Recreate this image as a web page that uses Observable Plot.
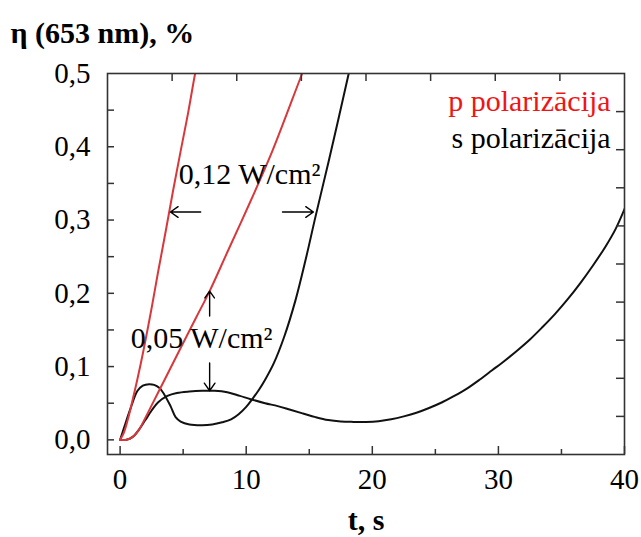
<!DOCTYPE html>
<html>
<head>
<meta charset="utf-8">
<script src="https://cdn.jsdelivr.net/npm/d3@7"></script>
<script src="https://cdn.jsdelivr.net/npm/@observablehq/plot@0.6"></script>
<style>
  html, body { margin: 0; padding: 0; background: white; }
</style>
</head>
<body>
<div id="chart"></div>
<script>
// ---- data ----
// p polarization, 0.12 W/cm2 (red, steep)
const redHighT   = [0, 0.3, 0.6, 1.0, 1.4, 1.84, 2.5, 3.0, 3.62, 4.2, 4.8, 5.4, 5.95, 6.2];
const redHighEta = [0, 0.01, 0.027, 0.055, 0.085, 0.121, 0.18, 0.228, 0.285, 0.34, 0.394, 0.447, 0.5, 0.52];
// p polarization, 0.05 W/cm2 (red)
const redLowT   = [0, 0.5, 1.0, 1.5, 2.0, 2.5, 3.5, 4.67, 6.0, 7.1, 8.5, 10.35, 12.07, 14.44, 14.8];
const redLowEta = [0, 0.0, 0.004, 0.014, 0.03, 0.047, 0.081, 0.121, 0.166, 0.203, 0.256, 0.326, 0.394, 0.5, 0.515];
// s polarization, 0.12 W/cm2 (black)
const blackHighT   = [0, 0.32, 0.85, 1.38, 1.8, 2.3, 2.7, 3.1, 3.5, 4.0, 4.4, 4.8, 5.5, 6.5, 7.3, 8.1, 8.8, 9.4, 10.0, 10.5, 11.0, 11.5, 12.2, 13.0, 13.9, 14.7, 15.5, 16.55, 17.3, 18.13, 18.4];
const blackHighEta = [0, 0.017, 0.044, 0.067, 0.074, 0.076, 0.075, 0.071, 0.062, 0.046, 0.031, 0.025, 0.021, 0.020, 0.021, 0.024, 0.028, 0.035, 0.045, 0.056, 0.068, 0.082, 0.105, 0.14, 0.19, 0.245, 0.305, 0.381, 0.437, 0.5, 0.52];
// s polarization, 0.05 W/cm2 (black)
const blackLowT   = [0, 0.5, 1.0, 1.5, 2.0, 2.5, 3.0, 3.75, 4.5, 5.5, 6.5, 7.5, 8.5, 9.5, 10.35, 11.5, 12.5, 13.5, 14.5, 15.5, 16.5, 17.5, 18.5, 19.5, 20.5, 21.5, 22.5, 23.5, 24.5, 25.5, 26.5, 27.5, 28.5, 29.5, 30.5, 31.5, 32.5, 33.5, 34.5, 35.5, 36.5, 37.5, 38.5, 39.3, 40];
const blackLowEta = [0, 0.0, 0.004, 0.014, 0.027, 0.04, 0.051, 0.06, 0.064, 0.066, 0.067, 0.067, 0.065, 0.06, 0.0555, 0.05, 0.046, 0.041, 0.036, 0.031, 0.027, 0.025, 0.0245, 0.0245, 0.0255, 0.028, 0.032, 0.037, 0.0435, 0.051, 0.06, 0.07, 0.082, 0.095, 0.108, 0.122, 0.137, 0.154, 0.172, 0.192, 0.214, 0.238, 0.264, 0.288, 0.315];

// axes
const xMajorTicks = [0, 10, 20, 30, 40];
const xMinorTicks = [5, 15, 25, 35];
const xTopTicks = [4.125, 9.25, 14.375, 19.5, 24.625, 29.75, 34.875];
const yTicks = [0, 0.1, 0.2, 0.3, 0.4, 0.5];
const yAllTicks = [0, 0.05, 0.1, 0.15, 0.2, 0.25, 0.3, 0.35, 0.4, 0.45];
const yRightTicks = [0.032, 0.084, 0.136, 0.188, 0.24, 0.292, 0.344, 0.396, 0.448];

// texts
const yTitle = "η (653 nm), %";
const xTitle = "t, s";
const annoLabel = ["0,12 W/cm²", "0,05 W/cm²"];
const annoT = [4.65, 0.85];
const annoEta = [0.349, 0.126];
const legendLabel = ["p polarizācija", "s polarizācija"];
const legendColor = ["#f01414", "#000000"];
const legendT = [38.9, 38.9];
const legendEta = [0.449, 0.398];
// arrows (annotation pointers)
const arrowX1 = [6.39, 12.88, 7.1, 7.1];
const arrowX2 = [3.99, 15.33, 7.1, 7.1];
const arrowY1 = [0.311, 0.311, 0.169, 0.105];
const arrowY2 = [0.311, 0.311, 0.203, 0.067];

// ---- build tables ----
const toRows = (ts, es, s) => ts.map((t, i) => ({t, eta: es[i], s}));
const series = [
  {rows: toRows(redHighT, redHighEta, "p1"), color: "#d8383c"},
  {rows: toRows(redLowT, redLowEta, "p2"), color: "#d8383c"},
  {rows: toRows(blackHighT, blackHighEta, "s1"), color: "#111111"},
  {rows: toRows(blackLowT, blackLowEta, "s2"), color: "#111111"}
];
const annos = annoLabel.map((l, i) => ({l, t: annoT[i], eta: annoEta[i]}));
const legend = legendLabel.map((l, i) => ({l, c: legendColor[i], t: legendT[i], eta: legendEta[i]}));
const arrows = arrowX1.map((x1, i) => ({x1, x2: arrowX2[i], y1: arrowY1[i], y2: arrowY2[i]}));
const fmt = d => d.toFixed(1).replace(".", ",");
const axisColor = "#333";

const W = 641, H = 537, mT = 73, mB = 83, mL = 107, mR = 17;
const frameW = W - mL - mR, frameH = H - mT - mB;
const tickStyle = {stroke: axisColor, strokeWidth: 1.5};

const chart = Plot.plot({
  width: W,
  height: H,
  marginTop: mT,
  marginBottom: mB,
  marginLeft: mL,
  marginRight: mR,
  style: {fontFamily: "'Liberation Serif', 'Times New Roman', serif", fontSize: "29px", background: "white", color: "black"},
  x: {domain: [-1, 40], axis: null},
  y: {domain: [-0.02, 0.5], axis: null},
  marks: [
    // lines
    ...series.slice(2).map(s => Plot.line(s.rows, {x: "t", y: "eta", stroke: s.color, strokeWidth: 2, curve: "catmull-rom", clip: true})),
    ...series.slice(0, 2).map(s => Plot.line(s.rows, {x: "t", y: "eta", stroke: s.color, strokeWidth: 2, curve: "catmull-rom", clip: true})),
    // tick labels
    Plot.axisX(xMajorTicks, {anchor: "bottom", tickSize: 0, tickPadding: 14, tickFormat: d => String(d), fontSize: 29, label: null}),
    Plot.axisY(yTicks, {anchor: "left", tickSize: 0, tickPadding: 17, tickFormat: fmt, fontSize: 29, label: null}),
    // inward ticks
    Plot.ruleX(xMajorTicks, {x: d => d, insetTop: frameH - 8, ...tickStyle}),
    Plot.ruleX(xMinorTicks, {x: d => d, insetTop: frameH - 5, ...tickStyle}),
    Plot.ruleX(xTopTicks, {x: d => d, insetBottom: frameH - 8, ...tickStyle}),
    Plot.ruleY(yAllTicks, {y: d => d, insetRight: frameW - 7, ...tickStyle}),
    Plot.ruleY(yRightTicks, {y: d => d, insetLeft: frameW - 8, ...tickStyle}),
    Plot.frame({stroke: axisColor, strokeWidth: 1.6}),
    // annotations
    Plot.text(annos, {x: "t", y: "eta", text: "l", textAnchor: "start", lineAnchor: "bottom", fontSize: 30, fill: "black"}),
    Plot.arrow(arrows, {x1: "x1", y1: "y1", x2: "x2", y2: "y2", stroke: "black", strokeWidth: 1.4, headLength: 10, headAngle: 70, inset: 0}),
    Plot.text(legend, {x: "t", y: "eta", text: "l", fill: "c", textAnchor: "end", lineAnchor: "bottom", fontSize: 30}),
    // titles
    Plot.text([yTitle], {frameAnchor: "top-left", dx: -97, dy: -31, textAnchor: "start", lineAnchor: "bottom", fontWeight: "bold", fontSize: 30, fill: "black"}),
    Plot.text([xTitle], {frameAnchor: "bottom", dy: 75, lineAnchor: "bottom", fontWeight: "bold", fontSize: 30, fill: "black"})
  ]
});
document.getElementById("chart").appendChild(chart);
</script>
</body>
</html>
